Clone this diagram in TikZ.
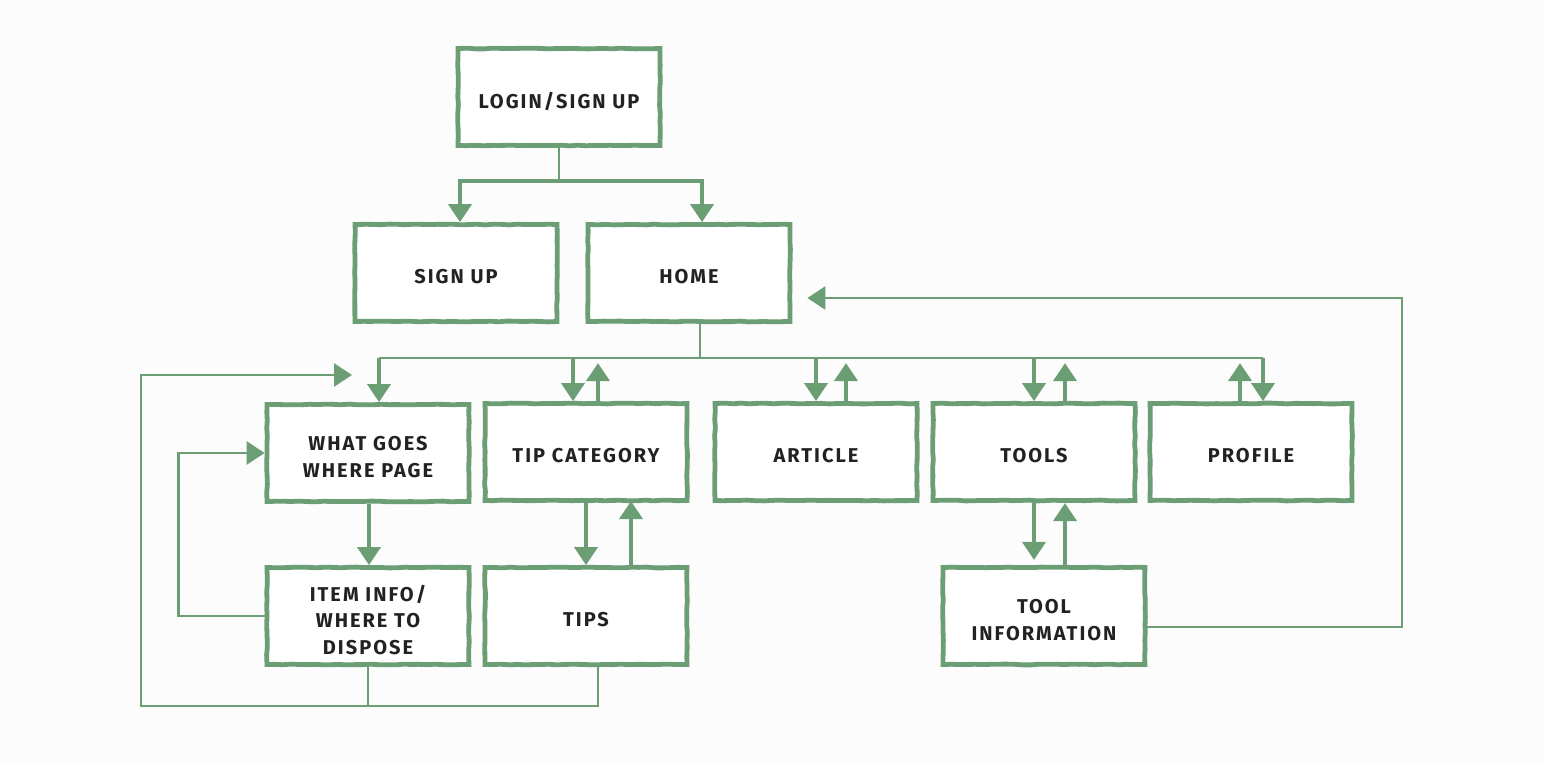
\documentclass[tikz,border=0pt]{standalone}
\usepackage{fontspec}
\setmainfont{Fira Sans}[LetterSpace=10]
\usetikzlibrary{positioning, arrows.meta, decorations.pathmorphing}
\definecolor{leaf}{HTML}{6C9E76}
\definecolor{ink}{HTML}{222222}

\begin{document}
\begin{tikzpicture}[
    x=1pt, y=-1pt,
    screen/.style={draw=leaf, line width=4.8pt, fill=white,
        minimum width=202pt, minimum height=97pt, inner sep=0pt,
        decorate, decoration={random steps, segment length=8pt, amplitude=0.4pt},
        label={[caption]center:{#1}}},
    caption/.style={align=center, text=ink, yshift=-4pt,
        font=\fontsize{20}{26.5}\selectfont\bfseries},
    link/.style={draw=leaf, line width=2.8pt},
    flow/.style={draw=leaf, line width=3.8pt},
    >={Triangle[width=23pt, length=18pt]}
]
    \fill[gray!2] (0,0) rectangle (1543,765);
    \useasboundingbox (0,0) rectangle (1543,765);

    % Screens of the app:
    \node[screen={LOGIN/SIGN UP}] (login) at (559,97) {};
    \node[screen={SIGN UP}] (signup) at (456,273) {};
    \node[screen={HOME}] (home) at (689,273) {};
    \node[screen={WHAT GOES\\WHERE PAGE}] (wgw) at (368,453) {};
    \node[screen={TIP CATEGORY}] (tipcat) at (586,452) {};
    \node[screen={ARTICLE}] (article) at (816,452) {};
    \node[screen={TOOLS}] (tools) at (1034,452) {};
    \node[screen={PROFILE}] (profile) at (1251,452) {};
    \node[screen={ITEM INFO/\\WHERE TO\\DISPOSE}] (item) at (368,616) {};
    \node[screen={TIPS}] (tips) at (586,616) {};
    \node[screen={TOOL\\INFORMATION}] (toolinfo) at (1044,616) {};

    % Login splits to sign up and home:
    \draw[link] (login.south) -- ++(0,33) coordinate (split);
    \draw[flow,->] (split) -| ([xshift=4pt]signup.north);
    \draw[flow,->] (split) -| ([xshift=13pt]home.north);
    \draw[link] ([xshift=4pt]signup.north |- split) -- ([xshift=13pt]home.north |- split);

    % Home bus to the main screens:
    \draw[link] ([xshift=11pt]home.south) -- ++(0,34) coordinate (bus);
    \draw[link] ([xshift=11pt]wgw.north |- bus) -- ([xshift=12pt]profile.north |- bus);
    \path ([xshift=11pt]wgw.north) coordinate (wgin)
          ([xshift=-13pt]tipcat.north) coordinate (tcin)
          (article.north) coordinate (arin)
          (tools.north) coordinate (toin)
          ([xshift=12pt]profile.north) coordinate (prin);
    \foreach \inlet in {wgin, tcin, arin, toin, prin}
        \draw[flow,->] (\inlet |- bus) -- (\inlet);
    \draw[flow,->] ([xshift=12pt]tipcat.north) -- ++(0,-38);
    \draw[flow,->] ([xshift=30pt]article.north) -- ++(0,-38);
    \draw[flow,->] ([xshift=31pt]tools.north) -- ++(0,-38);
    \draw[flow,->] ([xshift=-11pt]profile.north) -- ++(0,-38);

    % Second level:
    \draw[flow,->] ([xshift=1pt]wgw.south) -- ([xshift=1pt]item.north);
    \draw[flow,->] (tipcat.south) -- (tips.north);
    \draw[flow,->] ([xshift=45pt]tips.north) -- ++(0,-64);
    \draw[flow,->] (tools.south) -- ++(0,57);
    \draw[flow,->] ([xshift=21pt]toolinfo.north) -- ++(0,-62);

    % Loops back:
    \draw[link,->] (item.west) -- ++(-86,0) |- (wgw.west);
    \coordinate (loopend) at (352,375);
    \draw[link,->] (item.south) |- (141,706) |- (loopend);
    \draw[link] ([xshift=12pt]tips.south) |- (item.south |- 0,706);
    \draw[link,->] ([yshift=-11pt]toolinfo.east) -| (1402,298)
        -- ([xshift=15pt,yshift=-25pt]home.east);
\end{tikzpicture}
\end{document}
